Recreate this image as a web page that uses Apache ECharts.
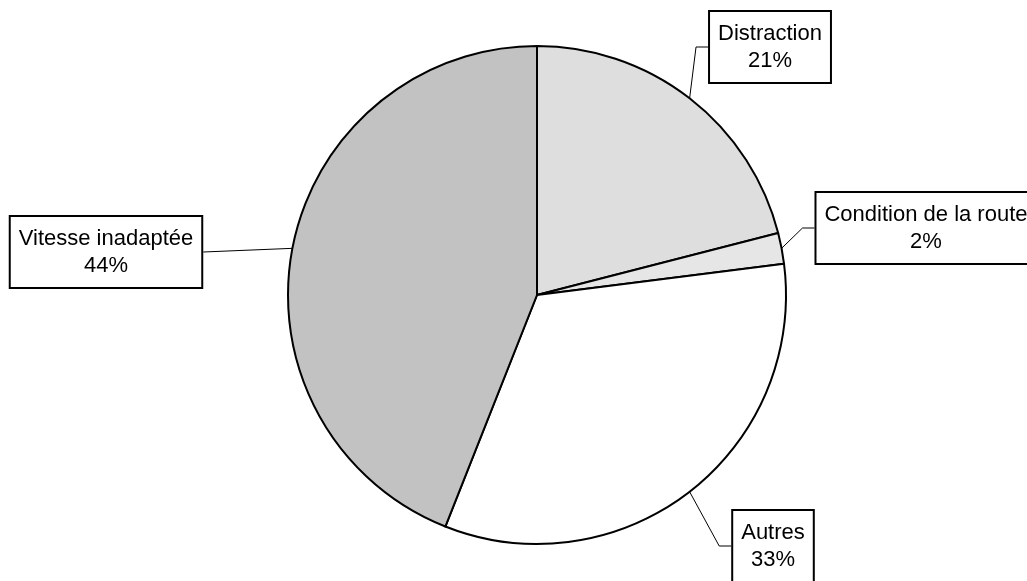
<!DOCTYPE html>
<html>
<head>
<meta charset="utf-8">
<script src="https://cdn.jsdelivr.net/npm/echarts@6/dist/echarts.min.js"></script>
<style>
  html, body { margin: 0; padding: 0; background: #fff; }
  #pieChart { width: 1027px; height: 581px; }
</style>
</head>
<body>
<div id="pieChart"></div>
<script>
// slices, clockwise from 12 o'clock
var categories = ['Distraction', 'Condition de la route', 'Autres', 'Vitesse inadaptée'];
var shares = [21, 2, 33, 44];

// fill colours (greys approximating the hatch patterns)
var fills = ['#dedede', '#e6e6e6', '#ffffff', '#c2c2c2'];
// where each label box sits (centre, px), same order as categories
var boxCenters = [[770, 47], [926, 228], [773, 546], [106, 252]];

var myChart = echarts.init(document.getElementById('pieChart'));

function setPieOption() {
    var data = categories.map(function (name, i) {
        return { name: name, value: shares[i], itemStyle: { color: fills[i] } };
    });
    return {
        animation: false,
        series: [
            {
                type: 'pie',
                center: [537, 295],
                radius: 249,
                startAngle: 90,
                clockwise: true,
                percentPrecision: 0,
                avoidLabelOverlap: false,
                emphasis: { disabled: true },
                itemStyle: { borderColor: '#000', borderWidth: 2 },
                label: {
                    show: true,
                    position: 'outside',
                    formatter: '{b}\n{d}%',
                    fontFamily: 'Liberation Sans, Arial, sans-serif',
                    fontSize: 22,
                    lineHeight: 27,
                    color: '#000',
                    align: 'center',
                    backgroundColor: '#fff',
                    borderColor: '#000',
                    borderWidth: 2,
                    padding: [8, 8, 8, 8]
                },
                labelLine: {
                    show: true,
                    length: 10,
                    length2: 10,
                    lineStyle: { color: '#000', width: 1 }
                },
                labelLayout: function (params) {
                    var c = boxCenters[params.dataIndex];
                    var w = params.labelRect.width;
                    var start = params.labelLinePoints ? params.labelLinePoints[0] : null;
                    var pts;
                    if (c[0] < 537) {
                        var rx = c[0] + w / 2;
                        pts = [start, [rx, c[1]]];
                    } else {
                        var lx = c[0] - w / 2;
                        pts = [start, [lx - 12, c[1]], [lx, c[1]]];
                    }
                    return {
                        x: c[0],
                        y: c[1],
                        align: 'center',
                        verticalAlign: 'middle',
                        labelLinePoints: start ? pts : undefined
                    };
                },
                data: data
            }
        ]
    };
}

myChart.setOption(setPieOption());
</script>
</body>
</html>
